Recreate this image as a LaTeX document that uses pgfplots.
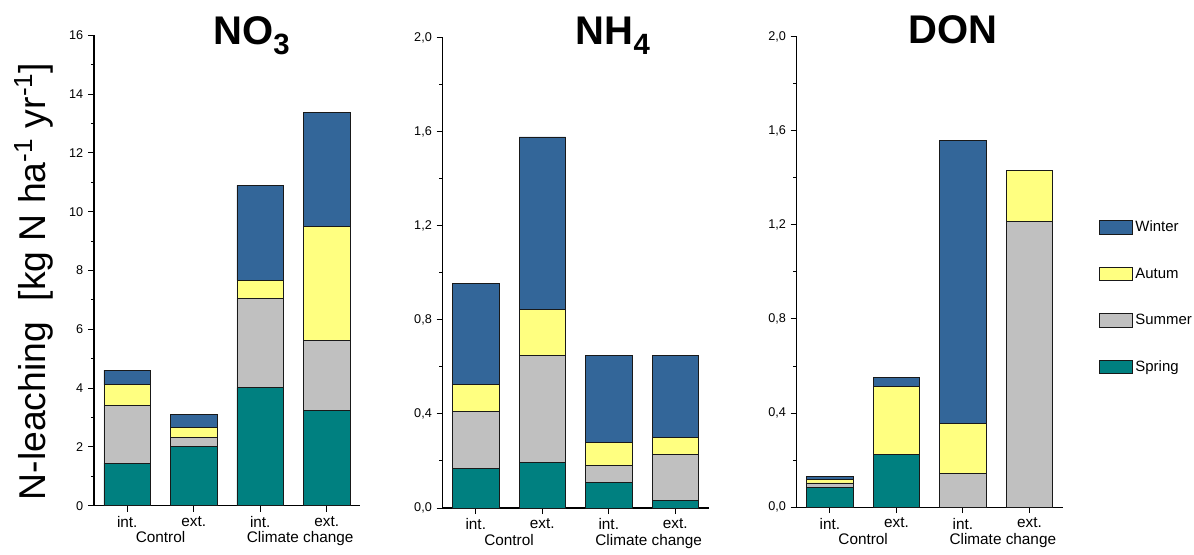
\documentclass[border=0pt]{standalone}
\usepackage{fontspec}
\setmainfont{Liberation Sans}
\usepackage{pgfplots}
\usepackage{pgfplotstable}
\pgfplotsset{compat=1.18}
\definecolor{cWinter}{RGB}{51,102,153}
\definecolor{cAutum}{RGB}{255,255,128}
\definecolor{cSummer}{RGB}{192,192,192}
\definecolor{cSpring}{RGB}{0,128,128}

\pgfplotstableread{
x Spring Summer Autum Winter
1 1.45 1.96 0.70 0.50
2 2.03 0.30 0.34 0.43
3 4.01 3.04 0.61 3.23
4 3.23 2.40 3.86 3.89
}\tabNO

\pgfplotstableread{
x Spring Summer Autum Winter
1 0.167 0.243 0.114 0.430
2 0.194 0.454 0.197 0.732
3 0.110 0.069 0.099 0.372
4 0.032 0.196 0.071 0.349
}\tabNH

\pgfplotstableread{
x Spring Summer Autum Winter
1 0.085 0.018 0.015 0.014
2 0.225 0.000 0.289 0.038
3 0.000 0.144 0.210 1.205
4 0.000 1.214 0.219 0.000
}\tabDON

\tikzset{grp/.style={anchor=base, font=\fontsize{11.5}{12}\selectfont, yshift=-27.8pt}}
\pgfplotsset{
  panel/.style={
    anchor=south west, scale only axis,
    width=199.5pt, height=352.9pt,
    xmin=0.5, xmax=4.5, ymin=0,
    axis lines=left, axis line style={-, line width=0.9pt, black},
    tick align=outside,
    major tick length=4.5pt, minor tick length=2.4pt,
    tick style={line width=0.75pt, black},
    xtick={1,2,3,4}, xticklabels={int.,ext.,int.,ext.},
    xticklabel style={font=\fontsize{11.5}{12}\selectfont},
    yticklabel style={font=\fontsize{9.5}{10}\selectfont},
    /pgf/number format/assume math mode=true,
    ybar stacked, bar width=0.7,
    clip=false,
    every axis plot/.append style={draw=black!90, line width=0.65pt},
  },
}

\begin{document}
\begin{tikzpicture}
\path[use as bounding box] (0pt,0pt) rectangle (895.5pt,-415.5pt);

% NO3
\begin{axis}[panel, at={(70.5pt,-379.3pt)}, ymax=16,
  ytick={0,2,...,16}, minor ytick={1,3,...,15}]
\addplot[fill=cSpring] table[x=x,y=Spring]{\tabNO};
\addplot[fill=cSummer] table[x=x,y=Summer]{\tabNO};
\addplot[fill=cAutum]  table[x=x,y=Autum]{\tabNO};
\addplot[fill=cWinter] table[x=x,y=Winter]{\tabNO};
\node[grp] at (axis cs:1.5,0) {Control};
\node[grp] at (axis cs:3.6,0) {Climate change};
\end{axis}

% NH4
\begin{axis}[panel, at={(331.9pt,-381pt)}, ymax=2,
  ytick={0,0.4,0.8,1.2,1.6,2.0}, minor ytick={0.2,0.6,1.0,1.4,1.8},
  yticklabel style={/pgf/number format/.cd, use comma, fixed, fixed zerofill, precision=1}]
\addplot[fill=cSpring] table[x=x,y=Spring]{\tabNH};
\addplot[fill=cSummer] table[x=x,y=Summer]{\tabNH};
\addplot[fill=cAutum]  table[x=x,y=Autum]{\tabNH};
\addplot[fill=cWinter] table[x=x,y=Winter]{\tabNH};
\node[grp] at (axis cs:1.5,0) {Control};
\node[grp] at (axis cs:3.6,0) {Climate change};
\end{axis}

% DON
\begin{axis}[panel, at={(597.5pt,-380.4pt)}, ymax=2,
  ytick={0,0.4,0.8,1.2,1.6,2.0}, minor ytick={0.2,0.6,1.0,1.4,1.8},
  yticklabel style={/pgf/number format/.cd, use comma, fixed, fixed zerofill, precision=1},
  legend style={at={(1.1365,0.6145)}, anchor=north west, draw=none, fill=none,
    inner sep=0pt, row sep=21.5pt, font=\fontsize{11.2}{12}\selectfont},
  legend cell align=left, reverse legend,
  legend image code/.code={\draw[#1] (0pt,-5pt) rectangle (24.5pt,5pt);}]
\addplot[fill=cSpring] table[x=x,y=Spring]{\tabDON};
\addplot[fill=cSummer] table[x=x,y=Summer]{\tabDON};
\addplot[fill=cAutum]  table[x=x,y=Autum]{\tabDON};
\addplot[fill=cWinter] table[x=x,y=Winter]{\tabDON};
\legend{Spring,Summer,Autum,Winter}
\node[grp] at (axis cs:1.5,0) {Control};
\node[grp] at (axis cs:3.6,0) {Climate change};
\end{axis}

% titles
\node[anchor=base, font=\bfseries\fontsize{30}{32}\selectfont] at (188.6pt,-33pt) {NO\raisebox{-8pt}{\fontsize{22}{22}\selectfont 3}};
\node[anchor=base, font=\bfseries\fontsize{30}{32}\selectfont] at (459.6pt,-33pt) {NH\raisebox{-8pt}{\fontsize{22}{22}\selectfont 4}};
\node[anchor=base, font=\bfseries\fontsize{30}{32}\selectfont] at (714.8pt,-32.3pt) {DON};

% y label
\node[rotate=90, anchor=base, font=\fontsize{28}{30}\selectfont] at (33.75pt,-211.1pt) {N-leaching\hspace{0.55em}[kg N ha\textsuperscript{-1} yr\textsuperscript{-1}]};
\end{tikzpicture}
\end{document}
